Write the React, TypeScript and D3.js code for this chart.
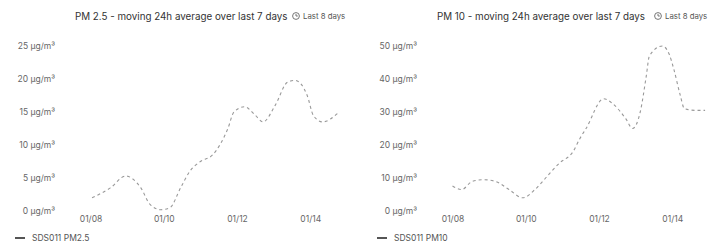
import React, { useEffect, useRef } from "react";
import { select, scaleLinear, scaleTime, axisLeft, axisBottom, line, curveMonotoneX, timeParse, timeFormat } from "d3";

// PM2.5 moving average
const pm25Times = [
  "01-08 01:00", "01-08 13:00", "01-08 23:00", "01-09 09:00", "01-09 15:00", "01-09 22:00",
  "01-10 04:00", "01-10 11:00", "01-10 17:00", "01-11 00:00", "01-11 08:00", "01-11 18:00",
  "01-11 22:00", "01-12 05:00", "01-12 12:00", "01-12 17:00", "01-13 01:00", "01-13 09:00",
  "01-13 14:00", "01-13 22:00", "01-14 02:00", "01-14 08:00", "01-14 18:00",
];
const pm25Values = [
  2, 3.5, 5.3, 3.5, 1, 0.2, 0.5, 3.5, 6, 7.5, 8.5, 12.5, 15, 15.8, 14.5, 13.5, 16, 19.5, 19.8,
  17.5, 14.5, 13.5, 14.8,
];

const pm10Times = [
  "01-08 00:00", "01-08 06:00", "01-08 13:00", "01-08 20:00", "01-09 04:00", "01-09 13:00",
  "01-09 22:00", "01-10 06:00", "01-10 13:00", "01-10 22:00", "01-11 07:00", "01-11 11:30",
  "01-11 15:30", "01-12 03:00", "01-12 09:00", "01-12 17:30", "01-12 22:00", "01-13 03:00",
  "01-13 07:00", "01-13 09:00", "01-13 17:30", "01-13 22:00", "01-14 01:00", "01-14 05:00",
  "01-14 08:00", "01-14 15:00", "01-14 21:30",
];
const pm10Values = [
  7.6, 6.5, 9, 9.5, 9, 6.5, 4, 6.5, 10, 14.5, 18, 22, 25, 34, 32.5, 28, 25, 30, 41, 47, 50, 47.5,
  43, 35.5, 31, 30.5, 30.5,
];

const pm25Ticks = [0, 5, 10, 15, 20, 25];
const pm10Ticks = [0, 10, 20, 30, 40, 50];
const dateTicks = ["01-08 00:00", "01-10 00:00", "01-12 00:00", "01-14 00:00"];
const timeRange = ["01-07 04:00", "01-15 04:00"];

const parse = timeParse("%m-%d %H:%M");
const fmt = timeFormat("%m/%d");

const W = 362;
const H = 244;
const left = 60;
const right = 353;
const top = 46;
const bottom = 211;

function Panel({ x, title, legend, times, values, ticks }) {
  const ref = useRef(null);

  useEffect(() => {
    const g = select(ref.current);
    const xScale = scaleTime()
      .domain(timeRange.map(parse))
      .range([left, right]);
    const yScale = scaleLinear()
      .domain([ticks[0], ticks[ticks.length - 1]])
      .range([bottom, top]);

    const yAxis = axisLeft(yScale)
      .tickValues(ticks)
      .tickSize(0)
      .tickPadding(2)
      .tickFormat(d => `${d} µg/m³`);
    g.select(".y-axis")
      .attr("transform", `translate(${left - 3},0)`)
      .call(yAxis)
      .call(s => s.select(".domain").remove())
      .selectAll("text")
      .attr("font-family", "Inter, sans-serif")
      .attr("font-size", 8.5)
      .attr("fill", "#666");

    const xAxis = axisBottom(xScale)
      .tickValues(dateTicks.map(parse))
      .tickSize(0)
      .tickPadding(4)
      .tickFormat(fmt);
    g.select(".x-axis")
      .attr("transform", `translate(0,${bottom + 1})`)
      .call(xAxis)
      .call(s => s.select(".domain").remove())
      .selectAll("text")
      .attr("font-family", "Inter, sans-serif")
      .attr("font-size", 8.5)
      .attr("fill", "#666");

    const data = times.map((t, i) => ({ t: parse(t), v: values[i] }));
    const gen = line()
      .x(d => xScale(d.t))
      .y(d => yScale(d.v))
      .curve(curveMonotoneX);
    g.select(".series")
      .selectAll("path")
      .data([data])
      .join("path")
      .attr("d", gen)
      .attr("fill", "none")
      .attr("stroke", "#999")
      .attr("stroke-width", 1.1)
      .attr("stroke-dasharray", "3 3");
  }, [times, values, ticks]);

  return (
    <g ref={ref} transform={`translate(${x},0)`}>
      <text x={75} y={20} fontFamily="Inter, sans-serif" fontSize={9.8} fill="#333">
        {title}
      </text>
      <g transform="translate(296,16)" stroke="#666" fill="none" strokeWidth={0.9}>
        <circle r={3.4} />
        <path d="M0,-2 V0 H1.8" />
      </g>
      <text x={303} y={19} fontFamily="Inter, sans-serif" fontSize={7.8} fill="#555">
        Last 8 days
      </text>
      <g className="y-axis" />
      <g className="x-axis" />
      <g className="series" />
      <line x1={15} x2={25} y1={238} y2={238} stroke="#555" strokeWidth={2} />
      <text x={32} y={241} fontFamily="Inter, sans-serif" fontSize={8.5} fill="#555">
        {legend}
      </text>
    </g>
  );
}

export default function App() {
  return (
    <svg width={724} height={H} style={{ position: "absolute", left: 0, top: 0, background: "#fff" }}>
      <Panel
        x={0}
        title="PM 2.5 - moving 24h average over last 7 days"
        legend="SDS011 PM2.5"
        times={pm25Times}
        values={pm25Values}
        ticks={pm25Ticks}
      />
      <Panel
        x={W}
        title="PM 10 - moving 24h average over last 7 days"
        legend="SDS011 PM10"
        times={pm10Times}
        values={pm10Values}
        ticks={pm10Ticks}
      />
    </svg>
  );
}
